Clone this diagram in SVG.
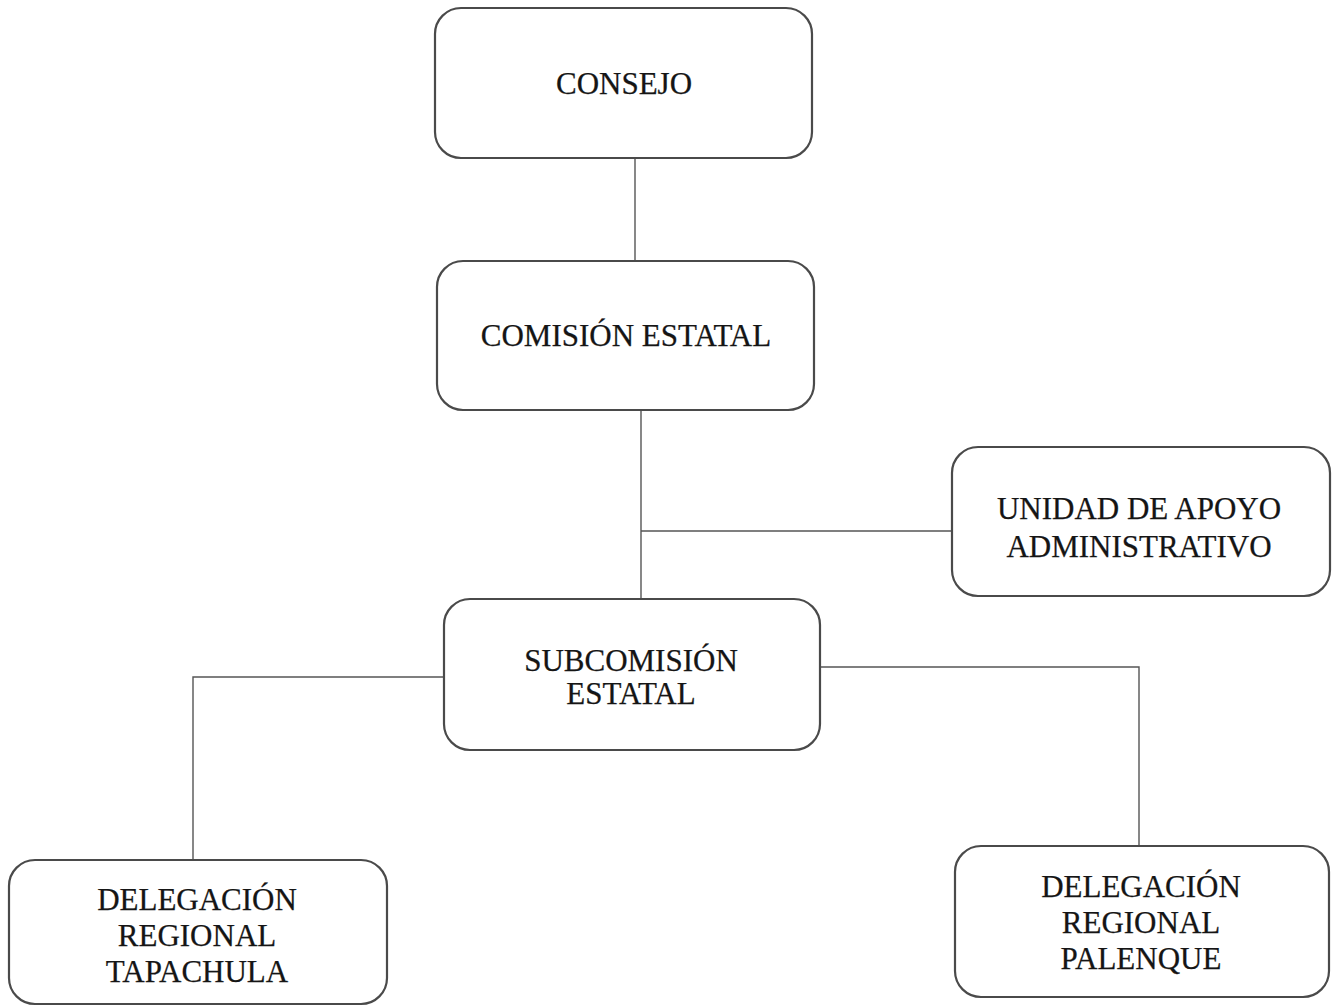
<svg xmlns="http://www.w3.org/2000/svg" width="1337" height="1007" viewBox="0 0 1337 1007">
<style>
.box{fill:#fff;stroke:#4a4a4a;stroke-width:2.2}
.lbl{font-family:"Liberation Serif","Times New Roman",serif;font-size:31px;fill:#151515;stroke:#151515;stroke-width:0.25;text-anchor:middle}
.conn{fill:none;stroke:#555;stroke-width:1.4}
</style>
<rect width="1337" height="1007" fill="#fff"/>
<g id="connectors">
<line class="conn" x1="635" y1="158" x2="635" y2="261"/>
<line class="conn" x1="641" y1="410" x2="641" y2="599"/>
<line class="conn" x1="641" y1="531" x2="952" y2="531"/>
<polyline class="conn" points="444,677 193,677 193,860"/>
<polyline class="conn" points="820,667 1139,667 1139,846"/>
</g>
<g id="consejo">
<rect class="box" x="435" y="8" width="377" height="150" rx="26"/>
<text class="lbl" x="624" y="94">CONSEJO</text>
</g>
<g id="comision">
<rect class="box" x="437" y="261" width="377" height="149" rx="26"/>
<text class="lbl" x="626" y="346">COMISIÓN ESTATAL</text>
</g>
<g id="unidad">
<rect class="box" x="952" y="447" width="378" height="149" rx="26"/>
<text class="lbl" x="1139" y="519">UNIDAD DE APOYO</text>
<text class="lbl" x="1139" y="557">ADMINISTRATIVO</text>
</g>
<g id="subcomision">
<rect class="box" x="444" y="599" width="376" height="151" rx="26"/>
<text class="lbl" x="631" y="671">SUBCOMISIÓN</text>
<text class="lbl" x="631" y="704">ESTATAL</text>
</g>
<g id="tapachula">
<rect class="box" x="9" y="860" width="378" height="144" rx="26"/>
<text class="lbl" x="197" y="910">DELEGACIÓN</text>
<text class="lbl" x="197" y="946">REGIONAL</text>
<text class="lbl" x="197" y="982">TAPACHULA</text>
</g>
<g id="palenque">
<rect class="box" x="955" y="846" width="374" height="151" rx="26"/>
<text class="lbl" x="1141" y="897">DELEGACIÓN</text>
<text class="lbl" x="1141" y="933">REGIONAL</text>
<text class="lbl" x="1141" y="969">PALENQUE</text>
</g>
</svg>
